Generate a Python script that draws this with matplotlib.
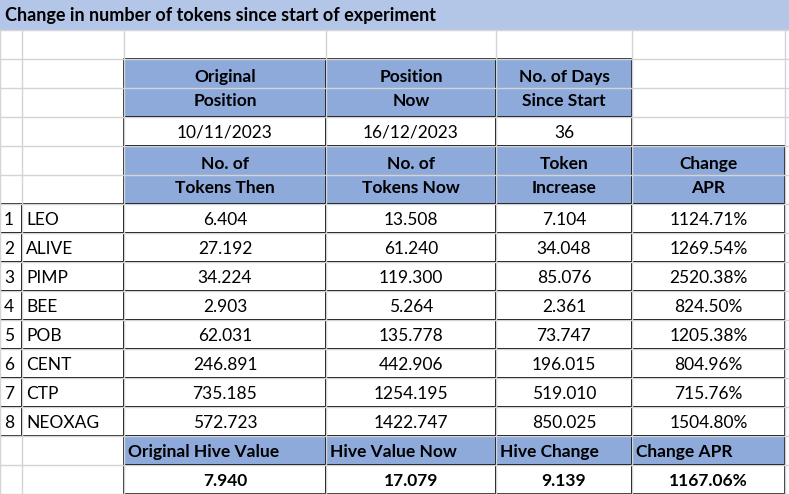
import matplotlib.pyplot as plt
from matplotlib.patches import Rectangle

title = "Change in number of tokens since start of experiment"
tokens = ["LEO", "ALIVE", "PIMP", "BEE", "POB", "CENT", "CTP", "NEOXAG"]
tokens_then = ["6.404", "27.192", "34.224", "2.903", "62.031", "246.891", "735.185", "572.723"]
tokens_now = ["13.508", "61.240", "119.300", "5.264", "135.778", "442.906", "1254.195", "1422.747"]
token_increase = ["7.104", "34.048", "85.076", "2.361", "73.747", "196.015", "519.010", "850.025"]
change_apr = ["1124.71%", "1269.54%", "2520.38%", "824.50%", "1205.38%", "804.96%", "715.76%", "1504.80%"]
top_headers = ["Original\nPosition", "Position\nNow", "No. of Days\nSince Start"]
top_values = ["10/11/2023", "16/12/2023", "36"]
col_headers = ["No. of\nTokens Then", "No. of\nTokens Now", "Token\nIncrease", "Change\nAPR"]
summary_headers = ["Original Hive Value", "Hive Value Now", "Hive Change", "Change APR"]
summary_values = ["7.940", "17.079", "9.139", "1167.06%"]

W, H = 789, 494
cols = [0, 22, 124, 326, 496, 632, 785, 789]
rh = 29
top = 30

def ry(i):
    return top + i * rh

fig = plt.figure(figsize=(W / 100, H / 100), dpi=100)
ax = fig.add_axes([0, 0, 1, 1])
ax.set_xlim(0, W)
ax.set_ylim(H, 0)
ax.axis("off")

FONT = "Lato"
FS = 12.5
HEAD = "#8eaadb"
TITLE_BG = "#b4c6e7"

# light grid
for x in cols[:-1]:
    ax.plot([x, x], [top, H], color="#d4d4d4", lw=1)
for i in range(17):
    ax.plot([0, W], [ry(i), ry(i)], color="#d4d4d4", lw=1)

# title bar
ax.add_patch(Rectangle((0, 0), W, top, color=TITLE_BG, lw=0))
ax.text(5, 16, title, fontsize=13, fontweight="bold", family=FONT, va="center")

def cell(c0, c1, r0, r1, text, fill=None, bold=False, ha="center", fs=FS):
    x0, x1 = cols[c0], cols[c1]
    y0, y1 = ry(r0), ry(r1)
    ax.add_patch(Rectangle((x0, y0), x1 - x0, y1 - y0, facecolor=fill or "white",
                           edgecolor="black", lw=1.2))
    if ha == "center":
        tx = (x0 + x1) / 2
    else:
        tx = x0 + 4
    ax.text(tx, (y0 + y1) / 2 + 1, text, ha=ha, va="center", fontsize=fs,
            family=FONT, fontweight="bold" if bold else "normal", linespacing=1.55)

# top header block
for j in range(3):
    cell(2 + j, 3 + j, 1, 3, top_headers[j], HEAD, bold=True)
    cell(2 + j, 3 + j, 3, 4, top_values[j])
# column headers
for j in range(4):
    cell(2 + j, 3 + j, 4, 6, col_headers[j], HEAD, bold=True)
# data rows
for i, name in enumerate(tokens):
    r = 6 + i
    cell(0, 1, r, r + 1, str(i + 1), ha="left")
    cell(1, 2, r, r + 1, name, ha="left")
    for j, v in enumerate([tokens_then[i], tokens_now[i], token_increase[i], change_apr[i]]):
        cell(2 + j, 3 + j, r, r + 1, v)
# summary
for j in range(4):
    cell(2 + j, 3 + j, 14, 15, summary_headers[j], HEAD, bold=True, ha="left")
    cell(2 + j, 3 + j, 15, 16, summary_values[j], bold=True)

fig.savefig("out.png", dpi=100)
